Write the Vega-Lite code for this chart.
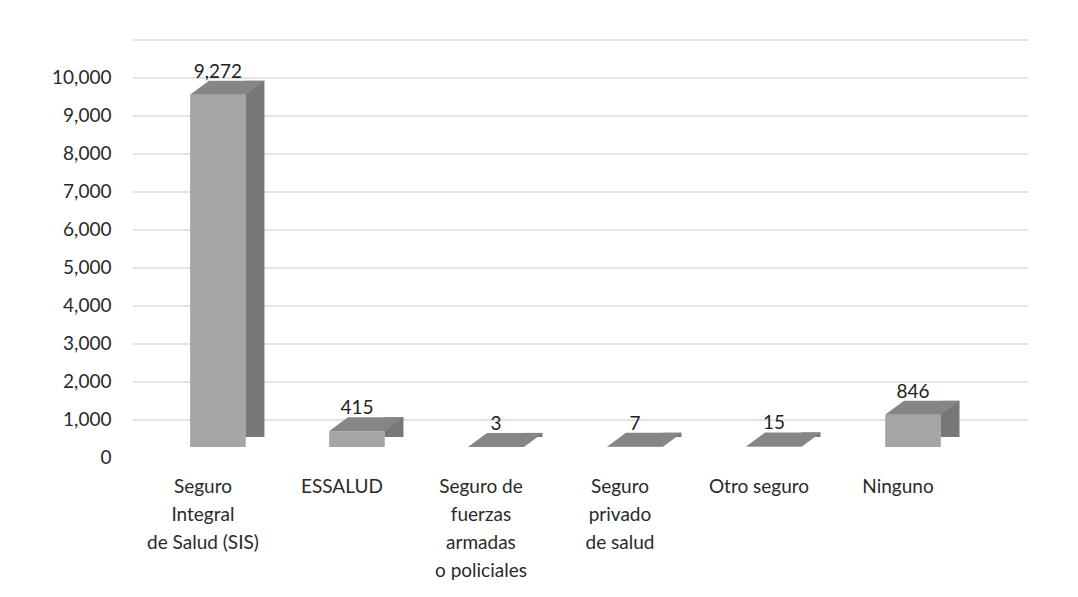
{
  "$schema": "https://vega.github.io/schema/vega-lite/v6.json",
  "width": 848,
  "height": 380,
  "autosize": "none",
  "padding": {"left": 133, "top": 67, "right": 97, "bottom": 150},
  "background": "white",
  "config": {
    "view": {"stroke": null},
    "font": "Lato",
    "axis": {"labelFont": "Lato", "labelColor": "#2a2a2a", "labelFontSize": 19}
  },
  "datasets": {
    "bars": [
      {"cat": "Seguro|Integral|de Salud (SIS)", "v": 9272},
      {"cat": "ESSALUD", "v": 415},
      {"cat": "Seguro de|fuerzas|armadas|o policiales", "v": 3},
      {"cat": "Seguro|privado|de salud", "v": 7},
      {"cat": "Otro seguro", "v": 15},
      {"cat": "Ninguno", "v": 846}
    ],
    "grid": [
      {"v": 0}, {"v": 1000}, {"v": 2000}, {"v": 3000}, {"v": 4000}, {"v": 5000},
      {"v": 6000}, {"v": 7000}, {"v": 8000}, {"v": 9000}, {"v": 10000}
    ]
  },
  "encoding": {
    "y": {"field": "v", "type": "quantitative", "scale": {"domain": [0, 10000]},
      "axis": {"values": [0, 1000, 2000, 3000, 4000, 5000, 6000, 7000, 8000, 9000, 10000], "format": ",.0f", "labelOverlap": false, "grid": false, "domain": false, "ticks": false, "labelPadding": 22, "labelOffset": 10, "title": null}}
  },
  "layer": [
    {
      "data": {"name": "grid"},
      "mark": {"type": "rule", "color": "#c9c9c9", "strokeWidth": 1.2, "xOffset": 47, "x2Offset": 47, "yOffset": -27},
      "encoding": {}
    },
    {
      "data": {"name": "bars"},
      "mark": {"type": "bar", "color": "#777777", "width": 19, "xOffset": 37, "yOffset": -14, "y2Offset": -10},
      "encoding": {
        "x": {"field": "cat", "type": "nominal", "sort": null,
          "scale": {"paddingInner": 0.6, "paddingOuter": 0.35, "align": 0.587},
          "axis": {"title": null, "labelAngle": 0, "domain": false, "ticks": false, "labelPadding": 30, "labelOffset": -15, "labelLineHeight": 28, "labelBaseline": "top", "labelExpr": "split(datum.label, '|')"}},
        "y2": {"datum": 0}
      }
    },
    {
      "data": {"name": "bars"},
      "mark": {"type": "bar", "color": "#a5a5a5"},
      "encoding": {
        "x": {"field": "cat", "type": "nominal", "sort": null}
      }
    },
    {
      "data": {"name": "bars"},
      "mark": {"type": "point", "filled": true, "opacity": 1, "color": "#868686", "size": 10000, "shape": "M -0.56 0 L 0.56 0 L 0.94 -0.28 L -0.18 -0.28 Z"},
      "encoding": {
        "x": {"field": "cat", "type": "nominal", "sort": null}
      }
    },
    {
      "data": {"name": "bars"},
      "mark": {"type": "text", "font": "Lato", "fontSize": 19, "color": "#222222", "baseline": "middle", "dy": -23},
      "encoding": {
        "x": {"field": "cat", "type": "nominal", "sort": null},
        "text": {"field": "v", "type": "quantitative", "format": ","}
      }
    }
  ]
}
